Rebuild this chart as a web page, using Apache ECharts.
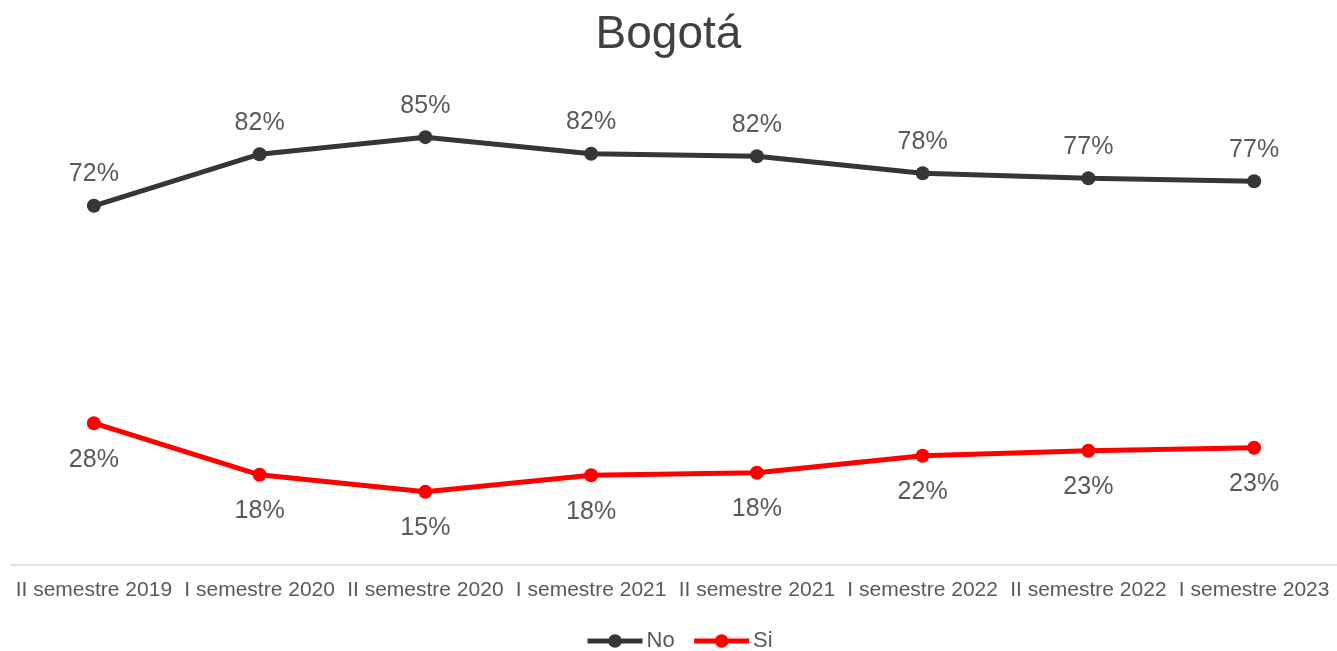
<!DOCTYPE html>
<html>
<head>
<meta charset="utf-8">
<script src="https://cdn.jsdelivr.net/npm/echarts@6/dist/echarts.min.js"></script>
<style>
    html, body { margin: 0; padding: 0; background: #fff; }
    #chart { width: 1337px; height: 651px; }
</style>
</head>
<body>
<div id="chart"></div>
<script>
// categories (semestres)
const categories = [
    'II semestre 2019', 'I semestre 2020', 'II semestre 2020', 'I semestre 2021',
    'II semestre 2021', 'I semestre 2022', 'II semestre 2022', 'I semestre 2023'
]
// % de respuestas
const seriesNo = [71.7, 82.0, 85.4, 82.1, 81.6, 78.2, 77.2, 76.6]
const seriesSi = [28.3, 18.0, 14.6, 17.9, 18.4, 21.8, 22.8, 23.4]

const font = 'Liberation Sans, Arial, sans-serif'
const labelColor = '#595959'

const chart = echarts.init(document.getElementById('chart'))

function lineSeries(name, data, color, pos) {
    return {
        name: name,
        type: 'line',
        data: data,
        symbol: 'circle',
        symbolSize: 14,
        lineStyle: { color: color, width: 5 },
        itemStyle: { color: color },
        label: {
            show: true,
            position: pos,
            distance: pos === 'top' ? 12 : 17,
            fontFamily: font,
            fontSize: 25,
            color: labelColor,
            formatter: (p) => Math.round(p.value) + '%'
        }
    }
}

chart.setOption({
    animation: false,
    title: {
        text: 'Bogotá',
        left: 'center',
        top: 7,
        textStyle: {
            fontFamily: font,
            fontSize: 46,
            fontWeight: 'normal',
            color: '#404040'
        }
    },
    legend: {
        top: 625,
        left: 580,
        itemWidth: 55,
        itemHeight: 17,
        itemGap: 17,
        lineStyle: { width: 5 },
        textStyle: { fontFamily: font, fontSize: 22, color: labelColor, padding: [0, 0, 0, -1] },
        data: ['No', 'Si']
    },
    grid: {
        left: 11,
        right: 0,
        top: 64,
        bottom: 86,
        containLabel: false
    },
    xAxis: {
        type: 'category',
        boundaryGap: true,
        data: categories,
        axisLine: { lineStyle: { color: '#d9d9d9', width: 1.5 } },
        axisTick: { show: false },
        axisLabel: {
            interval: 0,
            margin: 15,
            fontFamily: font,
            fontSize: 21,
            color: labelColor
        }
    },
    yAxis: {
        type: 'value',
        min: 0,
        max: 100,
        show: false,
        splitLine: { show: false }
    },
    series: [
        lineSeries('No', seriesNo, '#363636', 'top'),
        lineSeries('Si', seriesSi, '#ff0000', 'bottom')
    ]
})
</script>
</body>
</html>
